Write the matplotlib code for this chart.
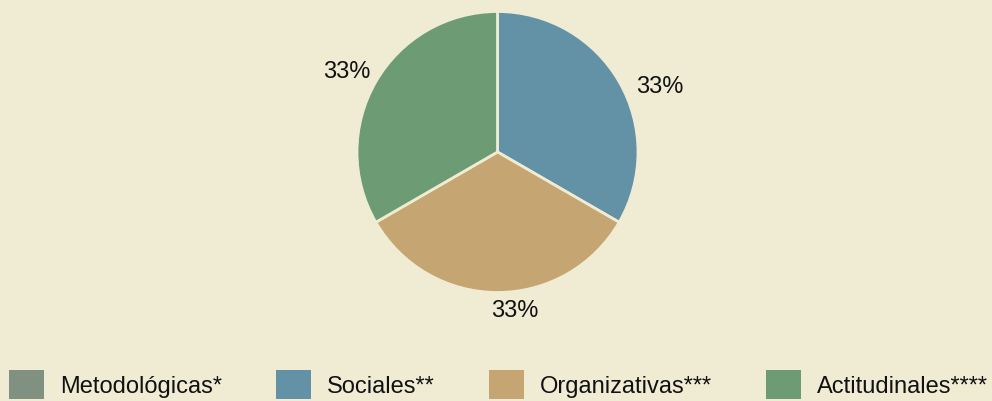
import numpy as np
import matplotlib
matplotlib.use("Agg")
import matplotlib.pyplot as plt
from matplotlib.patches import Patch

categories = ["Metodológicas*", "Sociales**", "Organizativas***", "Actitudinales****"]
values = [0, 1, 1, 1]
colors = ["#809182", "#6391a6", "#c5a572", "#6c9b74"]
# label positions in pie units (radius = 1), one per category shown
label_pos = [None, (1.157, 0.47), (0.125, -1.125), (-1.071, 0.577)]

bg = "#f0ecd4"
plt.rcParams["font.family"] = ["Liberation Sans", "DejaVu Sans"]

W, H = 992, 402
fig = plt.figure(figsize=(W / 100, H / 100), dpi=100, facecolor=bg)

# pie: centre (497.5, 153) px, radius 140.5 px
r = 140.5
cx, cy = 497.5, 153
half = r * 1.25
ax = fig.add_axes([(cx - half) / W, (H - cy - half) / H, 2 * half / W, 2 * half / H])
ax.set_facecolor(bg)

wedges, _ = ax.pie(values, colors=colors, startangle=90, counterclock=False,
                   wedgeprops=dict(edgecolor=bg, linewidth=2))
ax.set_xlim(-1.25, 1.25)
ax.set_ylim(-1.25, 1.25)
ax.set_aspect("equal")
ax.axis("off")

total = sum(values)
for v, pos in zip(values, label_pos):
    if pos is None or v == 0:
        continue
    pct = round(v / total * 100)
    ax.text(pos[0], pos[1], f"{pct}%", ha="center", va="center",
            fontsize=17, color="#111111", clip_on=False)

# legend along the bottom
handles = [Patch(facecolor=c, edgecolor="none") for c in colors]
fs = 17
px = fs * 100 / 72
fig.legend(handles, categories, loc="upper left",
           bbox_to_anchor=(9 / W, 1 - 371 / H), ncol=4, frameon=False,
           fontsize=fs, handlelength=35 / px, handleheight=35 / px,
           handletextpad=16 / px, columnspacing=54 / px, borderpad=0,
           borderaxespad=0, labelcolor="#111111")

fig.savefig("out.png", dpi=100, facecolor=bg)
